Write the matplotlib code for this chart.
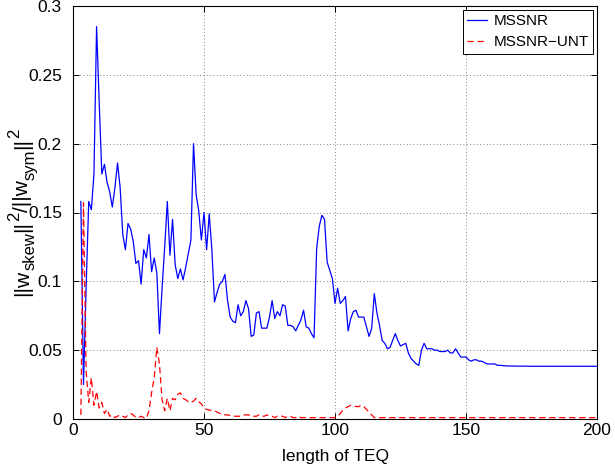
import matplotlib
matplotlib.use("Agg")
import matplotlib.pyplot as plt
import numpy as np

# ---------------------------------------------------------------------------
# Data (TEQ length 3..200)
# ---------------------------------------------------------------------------
teq_len = np.arange(3, 201)

mssnr = [
    0.158, 0.025, 0.095, 0.158, 0.152, 0.178, 0.285,                 # 3-9
    0.230, 0.178, 0.185, 0.172, 0.165, 0.154, 0.168, 0.186, 0.168, 0.134,  # 10-19
    0.123, 0.142, 0.138, 0.129, 0.113, 0.115, 0.098, 0.123, 0.117, 0.134,  # 20-29
    0.107, 0.117, 0.106, 0.062, 0.095, 0.125, 0.158, 0.119, 0.145, 0.112,  # 30-39
    0.102, 0.109, 0.101, 0.110, 0.120, 0.130, 0.200, 0.163, 0.151, 0.130,  # 40-49
    0.150, 0.123, 0.149, 0.123, 0.085, 0.092, 0.098, 0.100, 0.105, 0.086,  # 50-59
    0.074, 0.071, 0.070, 0.083, 0.075, 0.078, 0.086, 0.080, 0.060, 0.061,  # 60-69
    0.077, 0.078, 0.066, 0.066, 0.066, 0.074, 0.086, 0.073, 0.078, 0.075,  # 70-79
    0.083, 0.082, 0.068, 0.068, 0.067, 0.064, 0.068, 0.072, 0.079, 0.067,  # 80-89
    0.066, 0.062, 0.059, 0.124, 0.140, 0.148, 0.145, 0.114, 0.108, 0.102,  # 90-99
    0.084, 0.095, 0.084, 0.086, 0.089, 0.064, 0.073, 0.078, 0.079, 0.074,  # 100-109
    0.074, 0.074, 0.067, 0.060, 0.066, 0.091, 0.077, 0.068, 0.057, 0.055,  # 110-119
    0.051, 0.052, 0.057, 0.062, 0.057, 0.053, 0.054, 0.055, 0.048, 0.044,  # 120-129
    0.042, 0.040, 0.039, 0.050, 0.055, 0.051, 0.051, 0.051, 0.050, 0.050,  # 130-139
    0.049, 0.049, 0.049, 0.050, 0.048, 0.048, 0.051, 0.048, 0.045, 0.045,  # 140-149
    0.045, 0.043, 0.042, 0.043, 0.043, 0.042, 0.042, 0.041, 0.040, 0.040,  # 150-159
    0.040, 0.040, 0.039, 0.039, 0.0388, 0.0386, 0.0385, 0.0385, 0.0385, 0.0384,  # 160-169
    0.0384, 0.0384, 0.0384, 0.0384, 0.0383, 0.0383, 0.0383, 0.0383, 0.0383, 0.0383,  # 170-179
    0.0383, 0.0383, 0.0383, 0.0383, 0.0383, 0.0383, 0.0383, 0.0383, 0.0383, 0.0383,  # 180-189
    0.0383, 0.0383, 0.0383, 0.0383, 0.0383, 0.0383, 0.0383, 0.0383, 0.0383, 0.0383,  # 190-199
    0.0383,                                                           # 200
]

mssnr_unt = [
    0.003, 0.157, 0.035, 0.012, 0.030, 0.010, 0.020,                 # 3-9
    0.008, 0.012, 0.004, 0.007, 0.002, 0.003, 0.001, 0.002, 0.003, 0.002,  # 10-19
    0.001, 0.003, 0.004, 0.003, 0.001, 0.001, 0.002, 0.001, 0.0005, 0.006,  # 20-29
    0.019, 0.030, 0.052, 0.040, 0.014, 0.006, 0.015, 0.006, 0.015, 0.014,  # 30-39
    0.018, 0.019, 0.015, 0.014, 0.0125, 0.012, 0.013, 0.015, 0.0125, 0.011,  # 40-49
    0.008, 0.007, 0.0065, 0.006, 0.006, 0.005, 0.004, 0.004, 0.003, 0.003,  # 50-59
    0.0025, 0.002, 0.002, 0.002, 0.002, 0.003, 0.003, 0.003, 0.002, 0.002,  # 60-69
    0.002, 0.003, 0.002, 0.002, 0.003, 0.002, 0.002, 0.001, 0.002, 0.002,  # 70-79
    0.002, 0.001, 0.002, 0.002, 0.001, 0.001, 0.002, 0.001, 0.001, 0.001,  # 80-89
    0.001, 0.001, 0.001, 0.001, 0.001, 0.001, 0.001, 0.001, 0.001, 0.001,  # 90-99
    0.001, 0.002, 0.004, 0.0065, 0.008, 0.009, 0.010, 0.010, 0.009, 0.009,  # 100-109
    0.010, 0.009, 0.007, 0.005, 0.003, 0.001, 0.001, 0.001, 0.001, 0.001,  # 110-119
] + [0.001] * 81                                                      # 120-200

x_ticks = [0, 50, 100, 150, 200]
y_ticks = [0, 0.05, 0.1, 0.15, 0.2, 0.25, 0.3]
y_tick_labels = ["0", "0.05", "0.1", "0.15", "0.2", "0.25", "0.3"]

# y label as (text, relative size, baseline shift in em) pieces
ylabel_parts = [("||w", 1.0, 0.0), ("skew", 0.8, 0.3), ("||", 1.0, 0.0),
                ("2", 0.8, -0.45), ("/||w", 1.0, 0.0), ("sym", 0.8, 0.3),
                ("||", 1.0, 0.0), ("2", 0.8, -0.45)]

# ---------------------------------------------------------------------------
# Style
# ---------------------------------------------------------------------------
FS = 12.5
YL_FS = 15.0
plt.rcParams["font.family"] = ["Liberation Sans", "DejaVu Sans"]
plt.rcParams["font.size"] = FS

W, H = 615, 467
fig = plt.figure(figsize=(W / 100, H / 100), dpi=100)
ax = fig.add_axes([73 / W, 48 / H, 524 / W, 413 / H])

ax.plot(teq_len, mssnr, color="#0000ff", lw=0.9, label="MSSNR")
ax.plot(teq_len, mssnr_unt, color="#ff0000", lw=0.9, ls=(0, (5, 3)),
        label="MSSNR\u2212UNT")

ax.set_xlim(0, 200)
ax.set_ylim(0, 0.3)
ax.set_xticks(x_ticks)
ax.set_yticks(y_ticks)
ax.set_yticklabels(y_tick_labels)
ax.tick_params(direction="in", top=True, right=True, length=4, width=0.7,
               labelsize=FS)
ax.tick_params(axis="y", pad=8)
ax.tick_params(axis="x", pad=3)
ax.grid(True, color="0.35", ls=(0, (1, 3)), lw=0.6)
for sp in ax.spines.values():
    sp.set_linewidth(0.8)

ax.set_xlabel("length of TEQ", labelpad=8)

# rotated y label built piece by piece so the sub/superscripts stay large
renderer = fig.canvas.get_renderer()
pieces = []
total = 0.0
for txt, rel, shift in ylabel_parts:
    t = fig.text(0, 0, txt, rotation=90, rotation_mode="anchor",
                 ha="left", va="baseline", fontsize=YL_FS * rel)
    ext = t.get_window_extent(renderer)
    pieces.append((t, ext.height, shift))
    total += ext.height
base_x = 28.0
y_px = 48 + 413 / 2 - total / 2
for t, h, shift in pieces:
    t.set_position(((base_x + shift * YL_FS * 100 / 72) / W, y_px / H))
    y_px += h

leg = ax.legend(loc="upper right", borderaxespad=0.25, fancybox=False,
                edgecolor="black", framealpha=1, handlelength=1.3,
                fontsize=11, borderpad=0.3, labelspacing=0.45,
                handletextpad=0.4)
leg.get_frame().set_linewidth(0.7)

fig.savefig("out.png", dpi=100)
